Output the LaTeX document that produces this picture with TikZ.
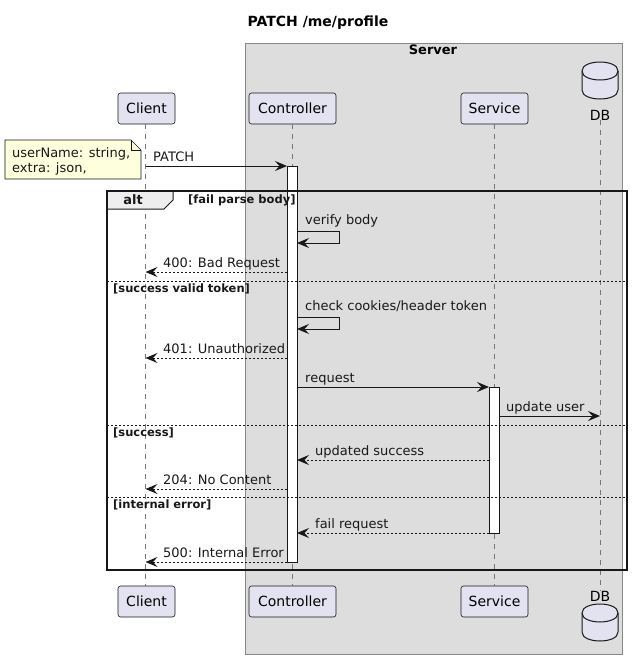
\documentclass[tikz,border=0pt]{standalone}
\usepackage{fontspec}
\setmainfont{DejaVu Sans}
\usetikzlibrary{arrows.meta}
\definecolor{partfill}{HTML}{E2E2F0}
\definecolor{ink}{HTML}{181818}
\definecolor{boxfill}{HTML}{DDDDDD}
\definecolor{boxline}{HTML}{888888}
\definecolor{notefill}{HTML}{FEFFDD}
\definecolor{tabfill}{HTML}{EEEEEE}
\definecolor{lifegray}{HTML}{777777}
\begin{document}
\begin{tikzpicture}[x=1pt,y=-1pt,
  part/.style={draw=ink,fill=partfill,rounded corners=2.5pt,minimum height=31pt,inner sep=0pt,font=\fontsize{14}{16}\selectfont,line width=0.6pt},
  lifeline/.style={draw=lifegray,line width=0.8pt,dash pattern=on 5pt off 5pt},
  msg/.style={draw=ink,line width=1pt,-{Stealth[length=12pt,width=10pt,inset=4.5pt]}},
  ret/.style={msg,dash pattern=on 2pt off 2pt},
  lbl/.style={anchor=base west,inner sep=0pt,font=\fontsize{13}{15}\selectfont,text=ink},
  guard/.style={anchor=west,inner sep=0pt,font=\bfseries\fontsize{11.5}{13}\selectfont,text=ink},
  act/.style={draw=ink,fill=white,line width=1pt},
  sep/.style={draw=ink,line width=1pt,dash pattern=on 2pt off 2pt}]
\useasboundingbox (0,0) rectangle (634,665);
% title
\node[font=\bfseries\fontsize{14}{16}\selectfont] (title) at (318,23) {PATCH /me/profile};
% server box
\draw[fill=boxfill,draw=boxline,line width=1pt] (245,43) rectangle (622,654);
\node[font=\bfseries\fontsize{13}{15}\selectfont] (server) at (433,50) {Server};
% participants top
\node[part,minimum width=57pt] (clientT) at (146.5,108.5) {Client};
\node[part,minimum width=87pt] (ctrlT) at (292.5,108.5) {Controller};
\node[part,minimum width=67pt] (servT) at (494.5,108.5) {Service};
\node[font=\fontsize{14}{16}\selectfont,inner sep=0pt] (dbT) at (600,115) {DB};
% participants bottom
\node[part,minimum width=57pt] (clientB) at (146.5,601.5) {Client};
\node[part,minimum width=87pt] (ctrlB) at (292.5,601.5) {Controller};
\node[part,minimum width=67pt] (servB) at (494.5,601.5) {Service};
\node[font=\fontsize{14}{16}\selectfont,inner sep=0pt] (dbB) at (600,596) {DB};
% db cylinders
\foreach \t in {62,604}{
  \draw[draw=ink,fill=partfill,line width=1pt]
    (582,\t+9) .. controls (582,\t-3) and (618,\t-3) .. (618,\t+9)
    -- (618,\t+28) .. controls (618,\t+40) and (582,\t+40) .. (582,\t+28) -- cycle;
  \draw[draw=ink,line width=1pt] (582,\t+9) .. controls (582,\t+21) and (618,\t+21) .. (618,\t+9);
}
% lifelines
\draw[lifeline] (clientT.south -| 145.5,0) -- (clientB.north -| 145.5,0);
\draw[lifeline] (ctrlT.south -| 292,0) -- (ctrlB.north -| 292,0);
\draw[lifeline] (servT.south -| 494,0) -- (servB.north -| 494,0);
\draw[lifeline] (dbT.south -| 600,0) -- (dbB.north -| 600,0);
% note
\draw[draw=ink,fill=notefill,line width=0.6pt] (5,140) -- (131,140) -- (141,150) -- (141,179) -- (5,179) -- cycle;
\draw[draw=ink,line width=0.6pt] (131,140) -- (131,150) -- (141,150);
\node[lbl] (n1) at (12,157.5) {userName: string,};
\node[lbl] (n2) at (12,172.5) {extra: json,};
% activations
\draw[act] (287,166) rectangle (297,562);
\draw[act] (489,387) rectangle (499,533);
% messages
\draw[msg] (145.5,166) -- (287,166);
\node[lbl] (m1) at (153,161.5) {PATCH};
\node[lbl] (m2) at (305,224.5) {verify body};
\draw[msg] (297,231) -- (339,231) -- (339,243) -- (297,243);
\draw[ret] (287,272) -- (145.5,272);
\node[lbl] (m3) at (163,267.5) {400: Bad Request};
\node[lbl] (m4) at (305,310.5) {check cookies/header token};
\draw[msg] (297,317) -- (339,317) -- (339,329) -- (297,329);
\draw[ret] (287,358) -- (145.5,358);
\node[lbl] (m5) at (163,353.5) {401: Unauthorized};
\draw[msg] (297,387) -- (489,387);
\node[lbl] (m6) at (305,382.5) {request};
\draw[msg] (499,416) -- (600,416);
\node[lbl] (m7) at (506,411.5) {update user};
\draw[ret] (489,460) -- (297,460);
\node[lbl] (m8) at (315,455.5) {updated success};
\draw[ret] (287,489) -- (145.5,489);
\node[lbl] (m9) at (163,484.5) {204: No Content};
\draw[ret] (489,533) -- (297,533);
\node[lbl] (m10) at (315,528.5) {fail request};
\draw[ret] (287,562) -- (145.5,562);
\node[lbl] (m11) at (163,557.5) {500: Internal Error};
% alt frame
\draw[draw=ink,fill=tabfill,line width=1pt] (107,191) -- (173,191) -- (173,200) -- (164,209) -- (107,209) -- cycle;
\node[font=\bfseries\fontsize{13}{15}\selectfont,text=ink,inner sep=0pt] (alt) at (133,200) {alt};
\node[guard] (g1) at (188,200) {[fail parse body]};
\draw[sep] (107,281) -- (627,281);
\node[guard] (g2) at (113,288.5) {[success valid token]};
\draw[sep] (107,425) -- (627,425);
\node[guard] (g3) at (113,432.5) {[success]};
\draw[sep] (107,497) -- (627,497);
\node[guard] (g4) at (113,505) {[internal error]};
\draw[draw=ink,line width=1.6pt] (107,191) rectangle (627,570);
\end{tikzpicture}
\end{document}
